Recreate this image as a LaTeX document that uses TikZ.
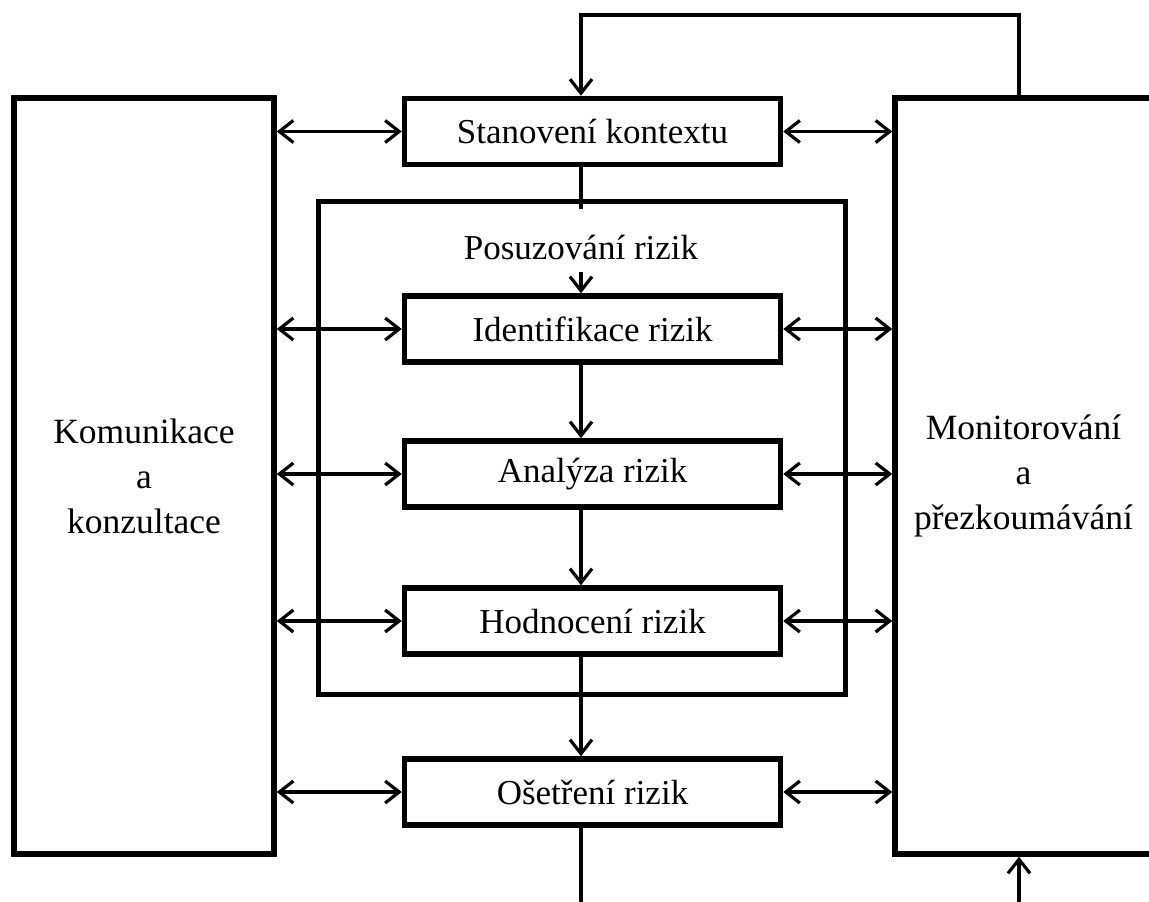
\documentclass[tikz,border=0pt]{standalone}
\usepackage{fontspec}
\setmainfont{Liberation Serif}
\usetikzlibrary{arrows.meta}
\tikzset{
  bigbox/.style={draw, line width=5.5pt, rectangle, align=center,
    font=\fontsize{35.5}{45}\selectfont},
  stepbox/.style={draw, line width=5.5pt, rectangle, minimum width=376pt,
    minimum height=66pt, inner sep=0pt, font=\fontsize{35}{42}\selectfont},
  frame/.style={draw, line width=5.5pt, rectangle, inner sep=0pt},
  conn/.style={line width=3.2pt},
  barb/.tip={Straight Barb[length=14pt,width=22pt]},
  flow/.style={conn, -barb},
  both/.style={conn, barb-barb}
}
\begin{document}
\begin{tikzpicture}[x=1pt, y=-1pt]
  \useasboundingbox (0,0) rectangle (1149,902);
  \clip (0,0) rectangle (1149,902);
  \fill[white] (0,0) rectangle (1149,902);

  % side boxes
  \node[bigbox, minimum width=260pt, minimum height=756pt] (kom) at (144,476)
    {Komunikace\\a\\konzultace};
  \node[bigbox, minimum width=257pt, minimum height=756pt, inner sep=0pt] (mon) at (1023.5,476)
    {Monitorování\\a\\přezkoumávání};

  % risk assessment frame
  \node[frame, minimum width=527pt, minimum height=493pt] (frm) at (582,448) {};
  \node[font=\fontsize{35}{42}\selectfont, inner sep=2pt] (pos) at (581,247) {Posuzování rizik};

  % process steps
  \node[stepbox] (st)  at (592.5,131.5) {Stanovení kontextu};
  \node[stepbox] (id)  at (592.5,329)   {Identifikace rizik};
  \node[stepbox] (an)  at (592.5,474)   {Analýza rizik};
  \node[stepbox] (hod) at (592.5,621)   {Hodnocení rizik};
  \node[stepbox] (os)  at (592.5,792)   {Ošetření rizik};

  % helper points for the spine and the feedback loop
  \coordinate (spine) at (581,0);
  \coordinate (loopx) at (1019,0);
  \coordinate (toprail) at (0,15);
  \coordinate (posend) at (581,272);
  \coordinate (stub) at (581,209);
  \coordinate (outbot) at (581,910);
  \coordinate (inbot) at (1019,910);

  % main flow
  \draw[conn] (st.south -| spine) -- (stub);
  \draw[flow] (posend) -- (id.north -| spine);
  \draw[flow] (id.south -| spine) -- (an.north -| spine);
  \draw[flow] (an.south -| spine) -- (hod.north -| spine);
  \draw[flow] (hod.south -| spine) -- (os.north -| spine);
  \draw[conn] (os.south -| spine) -- (outbot);

  % feedback loop
  \draw[flow] (mon.north -| loopx) -- (toprail -| loopx) -- (toprail -| spine) -- (st.north -| spine);
  \draw[flow] (inbot) -- (mon.south -| loopx);

  % links to the side boxes
  \foreach \s in {st,id,an,hod,os}{
    \draw[both] (kom.east |- \s.west) -- (\s.west);
    \draw[both] (\s.east) -- (mon.west |- \s.east);
  }
\end{tikzpicture}
\end{document}
